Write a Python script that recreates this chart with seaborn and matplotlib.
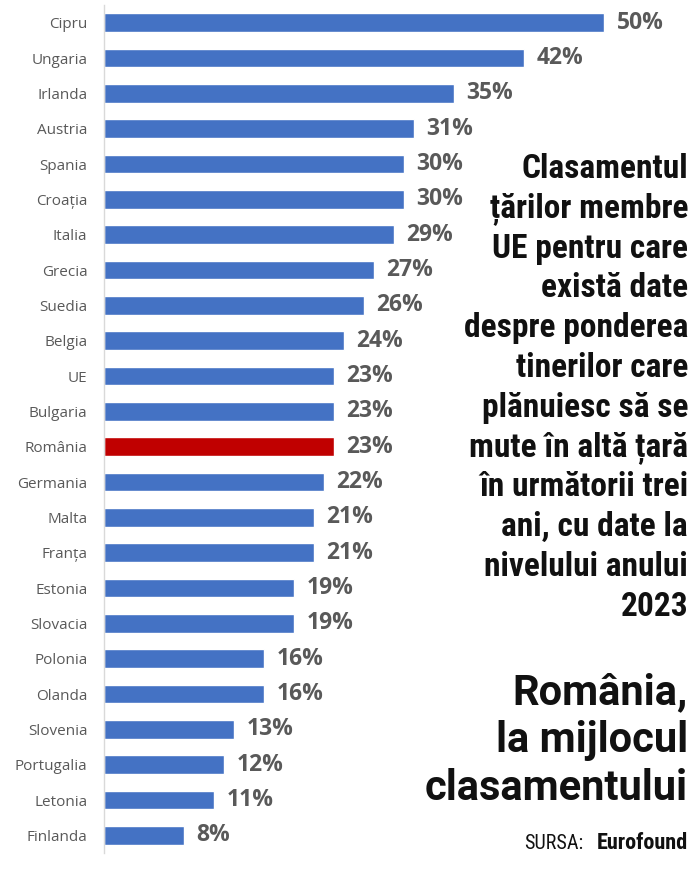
import matplotlib
matplotlib.use("Agg")
import matplotlib.pyplot as plt
import seaborn as sns
import pandas as pd

countries = ['Cipru', 'Ungaria', 'Irlanda', 'Austria', 'Spania', 'Croația', 'Italia',
             'Grecia', 'Suedia', 'Belgia', 'UE', 'Bulgaria', 'România', 'Germania',
             'Malta', 'Franța', 'Estonia', 'Slovacia', 'Polonia', 'Olanda', 'Slovenia',
             'Portugalia', 'Letonia', 'Finlanda']
values = [50, 42, 35, 31, 30, 30, 29, 27, 26, 24, 23, 23, 23, 22, 21, 21, 19, 19,
          16, 16, 13, 12, 11, 8]
highlight = 'România'

title_lines = ['Clasamentul', 'țărilor membre', 'UE pentru care', 'există date',
               'despre ponderea', 'tinerilor care', 'plănuiesc să se', 'mute în altă țară',
               'în următorii trei', 'ani, cu date la', 'nivelului anului', '2023']
headline_lines = ['România,', 'la mijlocul', 'clasamentului']

df = pd.DataFrame({'country': countries, 'value': values})
palette = {c: ('#C00000' if c == highlight else '#4472C4') for c in countries}

sns.set_style('white')
plt.rcParams['font.family'] = ['Open Sans', 'DejaVu Sans']

fig = plt.figure(figsize=(6.99, 8.72), dpi=100)
ax = fig.add_axes([104 / 699, 1 - 853 / 872, 595 / 699, 848 / 872])

sns.barplot(data=df, y='country', x='value', hue='country', palette=palette,
            orient='h', width=0.52, legend=False, ax=ax, saturation=1)

ax.set_xlim(0, 59.5)
ax.set_ylim(len(countries) - 0.5, -0.5)
ax.set_xlabel('')
ax.set_ylabel('')
ax.set_xticks([])
for s in ['top', 'right', 'bottom']:
    ax.spines[s].set_visible(False)
ax.spines['left'].set_color('#d9d9d9')
ax.spines['left'].set_linewidth(1)
ax.tick_params(axis='y', length=0, pad=12, labelsize=11, labelcolor='#595959')

for cont in ax.containers:
    ax.bar_label(cont, labels=[f'{v:.0f}%' for v in cont.datavalues], padding=9,
                 fontsize=16.5, fontweight='bold', color='#595959')

narrow = ['Roboto Condensed', 'Saira SemiCondensed', 'DejaVu Sans']
y0 = 1 - 169 / 872
step = 39.8 / 872
for i, line in enumerate(title_lines):
    fig.text(688 / 699, y0 - i * step, line, ha='right', va='center',
             family=narrow, fontweight=900, fontsize=24, color='#111111')

y1 = 1 - 693 / 872
step2 = 47.5 / 872
for i, line in enumerate(headline_lines):
    fig.text(688 / 699, y1 - i * step2, line, ha='right', va='center',
             family=['Roboto', 'DejaVu Sans'], fontweight='bold',
             fontsize=30, color='#111111')

fig.text(688 / 699, 1 - 843 / 872, 'Eurofound', ha='right', va='center',
         family=narrow, fontweight='bold', fontsize=16, color='#111111')
fig.text(583 / 699, 1 - 843 / 872, 'SURSA:', ha='right', va='center',
         family=narrow, fontsize=14.5, color='#111111')

fig.savefig('out.png', dpi=100, facecolor='white')
